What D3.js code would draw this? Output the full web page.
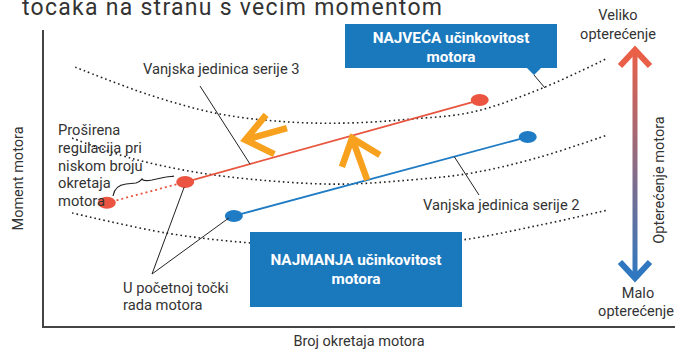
<!DOCTYPE html>
<html>
<head>
<meta charset="utf-8">
<script src="https://cdn.jsdelivr.net/npm/d3@7"></script>
<style>
body { margin: 0; background: #fff; }
text { font-family: Roboto, "DejaVu Sans", sans-serif; fill: #333; }
</style>
</head>
<body>
<script>
var width = 689
var height = 352

// data, in chart units (0..100 on both axes)
var curveTop = [[5.1, 87.5], [16.9, 78.1], [28.0, 71.7], [39.1, 69.0], [48.6, 68.7], [58.1, 70.0], [68.0, 72.4], [79.1, 80.5], [89.4, 90.6]]
var curveMid = [[4.6, 63.6], [13.8, 56.9], [24.8, 51.9], [35.9, 49.2], [47.0, 48.1], [58.1, 49.5], [68.0, 51.9], [78.6, 57.2], [89.2, 64.6]]
var curveLow = [[4.6, 38.4], [19.6, 31.6], [32.8, 28.3], [47.0, 26.9], [56.5, 27.6], [66.3, 29.3], [78.6, 34.3], [89.4, 39.4]]
var serie3 = [[10.1, 41.8], [22.5, 48.8], [69.1, 76.4]]
var serie2 = [[30.2, 37.4], [76.7, 64.0]]
// orange arrows: tip, arm, arm, tail
var moveArrows = [
  [[32.0, 63.0], [35.3, 71.4], [36.6, 58.2], [38.6, 67.0]],
  [[48.9, 63.6], [53.3, 57.9], [47.3, 53.9], [51.3, 49.5]]
]

var title = 'tocaka na stranu s vecim momentom'
var xLabel = 'Broj okretaja motora'
var yLabel = 'Moment motora'
var loadLabel = 'Opterećenje motora'

var svg = d3.select('body')
            .append('svg')
            .attr('width', width)
            .attr('height', height);

var x = d3.scaleLinear().domain([0, 100]).range([43, 675])
var y = d3.scaleLinear().domain([0, 100]).range([327, 30])

var defs = svg.append('defs')
var grad = defs.append('linearGradient')
               .attr('id', 'load')
               .attr('x1', 0).attr('y1', 0).attr('x2', 0).attr('y2', 1)
grad.append('stop').attr('offset', '0%').attr('stop-color', '#ea5f47')
grad.append('stop').attr('offset', '100%').attr('stop-color', '#2f78c0')

// title (cut at top, as in the source)
svg.append('text')
   .attr('x', 22)
   .attr('y', 15)
   .attr('font-size', '23px')
   .attr('textLength', 420)
   .text(title)

// axes
svg.append('line')
   .attr('x1', x(0)).attr('y1', y(100))
   .attr('x2', x(0)).attr('y2', y(0))
   .attr('stroke', '#444').attr('stroke-width', 2)
svg.append('line')
   .attr('x1', x(0) - 1).attr('y1', y(0))
   .attr('x2', x(100)).attr('y2', y(0))
   .attr('stroke', '#444').attr('stroke-width', 2)

svg.append('text')
   .attr('x', 359).attr('y', 346)
   .attr('text-anchor', 'middle')
   .attr('font-size', '14.5px')
   .text(xLabel)
svg.append('text')
   .attr('transform', 'translate(23,' + y(50) + ') rotate(-90)')
   .attr('text-anchor', 'middle')
   .attr('font-size', '14.5px')
   .text(yLabel)

// efficiency curves
var curve = d3.line()
              .x(function(d){ return x(d[0]) })
              .y(function(d){ return y(d[1]) })
              .curve(d3.curveCatmullRom)
svg.selectAll('.eff')
   .data([curveTop, curveMid, curveLow])
   .enter().append('path')
   .attr('class', 'eff')
   .attr('d', curve)
   .attr('fill', 'none')
   .attr('stroke', '#222')
   .attr('stroke-width', 1.6)
   .attr('stroke-dasharray', '1.6,3')

var straight = d3.line()
                 .x(function(d){ return x(d[0]) })
                 .y(function(d){ return y(d[1]) })

// series 3 (red)
svg.append('path')
   .attr('d', straight(serie3.slice(0, 2)))
   .attr('stroke', '#e8553e').attr('stroke-width', 1.8)
   .attr('stroke-dasharray', '2,3')
svg.append('path')
   .attr('d', straight(serie3.slice(1)))
   .attr('stroke', '#e8553e').attr('stroke-width', 1.8)
svg.selectAll('.dot3')
   .data(serie3)
   .enter().append('ellipse')
   .attr('cx', function(d){ return x(d[0]) })
   .attr('cy', function(d){ return y(d[1]) })
   .attr('rx', 9).attr('ry', 6)
   .attr('fill', '#ea5440')

// series 2 (blue)
svg.append('path')
   .attr('d', straight(serie2))
   .attr('stroke', '#1f7bc4').attr('stroke-width', 1.8)
svg.selectAll('.dot2')
   .data(serie2)
   .enter().append('ellipse')
   .attr('cx', function(d){ return x(d[0]) })
   .attr('cy', function(d){ return y(d[1]) })
   .attr('rx', 9).attr('ry', 6)
   .attr('fill', '#1f7bc4')

function along(a, b, t) {
  return [x(a[0] + (b[0] - a[0]) * t), y(a[1] + (b[1] - a[1]) * t)]
}

// orange arrows
moveArrows.forEach(function(a){
  var p = a.map(function(d){ return [x(d[0]), y(d[1])] })
  svg.append('path')
     .attr('d', 'M' + p[1] + 'L' + p[0] + 'L' + p[2] + 'M' + p[0] + 'L' + p[3])
     .attr('fill', 'none')
     .attr('stroke', '#f7a11e')
     .attr('stroke-width', 6.5)
     .attr('stroke-linejoin', 'miter')
})

// leader lines
var leaders = svg.append('g').attr('stroke', '#222').attr('stroke-width', 1).attr('fill', 'none')
var p3 = along(serie3[1], serie3[2], 0.22)
leaders.append('line').attr('x1', 200).attr('y1', 86).attr('x2', p3[0]).attr('y2', p3[1])
var p2 = along(serie2[0], serie2[1], 0.75)
leaders.append('line').attr('x1', 479).attr('y1', 195).attr('x2', p2[0]).attr('y2', p2[1])
leaders.append('line').attr('x1', 152).attr('y1', 274).attr('x2', x(serie3[1][0]) - 1).attr('y2', y(serie3[1][1]) + 5)
leaders.append('line').attr('x1', 152).attr('y1', 274).attr('x2', x(serie2[0][0]) - 5).attr('y2', y(serie2[0][1]) + 2)
leaders.append('line').attr('x1', 534).attr('y1', 75).attr('x2', 545).attr('y2', 88)
// curly brace
leaders.append('path')
   .attr('d', 'M113,196 C114,189 118,185 126,184 L136,183 C140,182 141,180 142,179 C143,181 146,181 152,180 L166,177 C170,176 172,177 174,176')
   .attr('stroke-width', 1.2)

var lbl = svg.append('g').attr('font-size', '14.7px')
lbl.append('text').attr('x', 143).attr('y', 74).text('Vanjska jedinica serije 3')
lbl.append('text').attr('x', 423).attr('y', 210).text('Vanjska jedinica serije 2')
var ext = ['Proširena', 'regulacija pri', 'niskom broju', 'okretaja', 'motora']
lbl.selectAll('.ext')
   .data(ext)
   .enter().append('text')
   .attr('x', 58)
   .attr('y', function(d, i){ return 135 + i * 17.8 })
   .text(function(d){ return d })
lbl.append('text').attr('x', 123).attr('y', 293).text('U početnoj točki')
lbl.append('text').attr('x', 123).attr('y', 310).text('rada motora')

// blue boxes
svg.append('path')
   .attr('d', 'M345,24 H557 V68 H541 L534,75 L527,68 H345 Z')
   .attr('fill', '#1a78bd')
svg.append('rect')
   .attr('x', 250).attr('y', 232).attr('width', 212).attr('height', 75)
   .attr('fill', '#1a78bd')
var boxText = [
  ['NAJVEĆA učinkovitost', 451, 43], ['motora', 451, 62],
  ['NAJMANJA učinkovitost', 356, 265], ['motora', 356, 284]
]
svg.selectAll('.bt')
   .data(boxText)
   .enter().append('text')
   .attr('x', function(d){ return d[1] })
   .attr('y', function(d){ return d[2] })
   .attr('text-anchor', 'middle')
   .attr('font-size', '15.3px')
   .attr('font-weight', 'bold')
   .style('fill', '#fff')
   .text(function(d){ return d[0] })

// load arrow
svg.append('rect')
   .attr('x', 632.5).attr('y', 50).attr('width', 5).attr('height', 228)
   .attr('fill', 'url(#load)')
svg.append('path')
   .attr('d', 'M620,66 L635,50 L650,66')
   .attr('fill', 'none').attr('stroke', '#ea5f47').attr('stroke-width', 6)
svg.append('path')
   .attr('d', 'M620,262 L635,278 L650,262')
   .attr('fill', 'none').attr('stroke', '#2f78c0').attr('stroke-width', 6)

var side = svg.append('g').attr('font-size', '14.5px').attr('text-anchor', 'middle')
side.append('text').attr('x', 618).attr('y', 20).text('Veliko')
side.append('text').attr('x', 618).attr('y', 39).text('opterećenje')
side.append('text').attr('x', 638).attr('y', 298).text('Malo')
side.append('text').attr('x', 636).attr('y', 316).text('opterećenje')
side.append('text')
    .attr('transform', 'translate(664,180) rotate(-90)')
    .text(loadLabel)
</script>
</body>
</html>
